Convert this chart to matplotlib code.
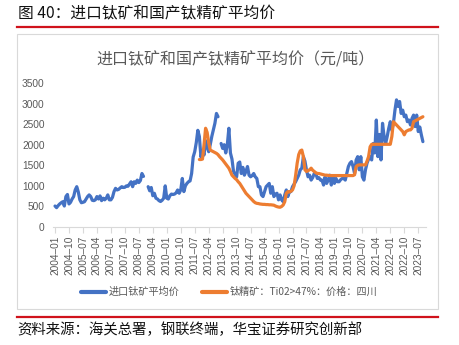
import numpy as np
import matplotlib
matplotlib.use("Agg")
import matplotlib.pyplot as plt
from matplotlib.lines import Line2D
from matplotlib.patches import Rectangle

plt.rcParams['font.family'] = ['Noto Sans CJK SC', 'DejaVu Sans']

nan = np.nan
# monthly months 2004-01 .. 2023-10
start_year, start_month = 2004, 1
n_months = 238
tick_step = 9

blue_2004 = [510, 470, 520, 560, 590, 615, 510, 740, 790, 560, 600, 680]
blue_2005 = [740, 900, 980, 850, 660, 590, 600, 615, 680, 740, 780, 740]
blue_2006 = [650, 640, 660, 740, 680, 755, 640, 700, 660, 700, 780, 660]
blue_2007 = [660, 720, 860, 940, 900, 915, 950, 980, 960, 965, 1000, 990]
blue_2008 = [1045, 1100, 980, 1100, 1060, 1140, 1080, 1130, 1300, 1230, nan, nan]
blue_2009 = [980, 880, 960, 760, 820, 700, 680, 640, 620, 650, 700, 1000]
blue_2010 = [700, 680, 760, 800, 790, 800, 830, 900, 820, 900, 1180, 860]
blue_2011 = [1000, 1060, 1100, 1120, 1300, 1700, 1830, 2050, 2350, 2200, 1700, 1850]
blue_2012 = [1750, 2100, 1950, 1830, 2000, 2200, 2360, 2520, 2760, 2680, nan, 2030]
blue_2013 = [1910, 2000, 1800, 2000, 2400, 1800, 1650, 1350, 1280, 1220, 1550, 1580]
blue_2014 = [1300, 1450, 1260, 1350, 1470, 1260, 1220, 1250, 1300, 1220, 1180, 980]
blue_2015 = [980, 780, 740, 860, 980, 1020, 1060, 820, 980, 740, 800, 820]
blue_2016 = [660, 780, 660, 615, 780, 900, 740, 860, 860, 980, 1040, 1100]
blue_2017 = [1180, 1260, 1390, 1430, 1710, 1600, 1390, 1220, 1260, 1140, 1200, 1300]
blue_2018 = [1300, 1180, 1200, 1140, 1140, 1020, 1220, 1060, 1150, 1260, 1020, 1220]
blue_2019 = [1060, 1180, 1100, 1100, 1150, 1180, 1180, 1140, 1300, 1470, 1550, 1590]
blue_2020 = [1470, 1300, 1630, 1710, 1390, 1710, 1220, 1140, 1390, 1550, 1650, 1710]
blue_2021 = [1630, 2030, 1800, 2600, 1710, 2250, 1630, 2520, 2200, 2030, 2200, 2400]
blue_2022 = [2560, 2350, 2520, 2840, 3090, 2930, 3050, 2760, 2840, 2680, 2720, 2560]
blue_2023 = [2600, 2480, 2640, 2720, 2440, 2720, 2320, 2430, 2240, 2075]

orange_2004_2010 = [nan] * 84
orange_2011 = [nan] * 9 + [1640, 1640, 1650]
orange_2012 = [2000, 2400, 2300, 2050, 1870, 1850, 1830, 1810, 1790, 1760, 1710, 1670]
orange_2013 = [1630, 1580, 1530, 1480, 1430, 1350, 1260, 1220, 1180, 1150, 1100, 1060]
orange_2014 = [1000, 940, 880, 820, 780, 740, 700, 660, 620, 590, 575, 570]
orange_2015 = [560, 555, 550, 550, 545, 545, 540, 540, 535, 530, 510, 495]
orange_2016 = [485, 480, 500, 535, 615, 820, 860, 850, 870, 900, 1000, 1250]
orange_2017 = [1550, 1760, 1850, 1870, 1710, 1390, 1350, 1370, 1390, 1430, 1380, 1350]
orange_2018 = [1320, 1300, 1300, 1290, 1280, 1270, 1260, 1260, 1255, 1250, 1250, 1250]
orange_2019 = [1250, 1250, 1250, 1250, 1250, 1250, 1250, 1250, 1250, 1250, 1250, 1250]
orange_2020 = [1250, 1270, 1470, 1500, 1510, 1510, 1510, 1510, 1510, 1600, 1710, 1950]
orange_2021 = [2010, 2010, 2010, 2010, 2010, 2010, 2010, 2010, 2010, 2010, 2010, 2010]
orange_2022 = [2010, 2200, 2560, 2520, 2480, 2440, 2400, 2360, 2320, 2240, 2320, 2340]
orange_2023 = [2360, 2360, 2400, 2560, 2580, 2600, 2620, 2640, 2660, 2680]

blue = np.array(blue_2004 + blue_2005 + blue_2006 + blue_2007 + blue_2008 + blue_2009 +
                blue_2010 + blue_2011 + blue_2012 + blue_2013 + blue_2014 + blue_2015 +
                blue_2016 + blue_2017 + blue_2018 + blue_2019 + blue_2020 + blue_2021 +
                blue_2022 + blue_2023, dtype=float)
orange = np.array(orange_2004_2010 + orange_2011 + orange_2012 + orange_2013 + orange_2014 +
                  orange_2015 + orange_2016 + orange_2017 + orange_2018 + orange_2019 +
                  orange_2020 + orange_2021 + orange_2022 + orange_2023, dtype=float)

labels = []
for i in range(n_months):
    y = start_year + (start_month - 1 + i) // 12
    mth = (start_month - 1 + i) % 12 + 1
    labels.append(f"{y}\u2013{mth:02d}")

blue_name = "进口钛矿平均价"
orange_name = "钛精矿：Ti02>47%：价格：四川"
y_ticks = [0, 500, 1000, 1500, 2000, 2500, 3000, 3500]

W, H = 459, 345
fig = plt.figure(figsize=(W / 100, H / 100), dpi=100)

def fx(px):
    return px / W

def fy(py):
    return 1 - py / H

# outer decorations
fig.text(fx(18), fy(14), "图 40：进口钛矿和国产钛精矿平均价", fontsize=11.3,
         color="#111111", va="center", ha="left")
fig.add_artist(Line2D([fx(17), fx(438)], [fy(27), fy(27)], color="#D0121B", lw=1.6))
fig.add_artist(Rectangle((fx(17), fy(309)), fx(438) - fx(17), fy(34) - fy(309),
                         fill=False, edgecolor="#D9D9D9", lw=0.8))
fig.add_artist(Line2D([fx(17), fx(438)], [fy(317), fy(317)], color="#D0121B", lw=1.6))
fig.text(fx(17), fy(330), "资料来源：海关总署，钢联终端，华宝证券研究创新部", fontsize=10.4,
         color="#111111", va="center", ha="left")
fig.text(fx(236), fy(60), "进口钛矿和国产钛精矿平均价（元/吨）", fontsize=11.5,
         color="#595959", va="center", ha="center")

ax = fig.add_axes([fx(53), fy(227), fx(426) - fx(53), fy(83) - fy(227)])
x = np.arange(n_months)
lb, = ax.plot(x, blue, color="#4472C4", lw=2.3, solid_capstyle="round", solid_joinstyle="round",
              label=blue_name)
lo, = ax.plot(x, orange, color="#ED7D31", lw=2.3, solid_capstyle="round", solid_joinstyle="round",
              label=orange_name)

ax.set_xlim(-1.3, 239)
ax.set_ylim(0, 3500)
ax.set_yticks(y_ticks)
ax.set_yticklabels([str(v) for v in y_ticks], family=['Liberation Sans'])
tick_pos = list(range(0, n_months, tick_step))
ax.set_xticks(tick_pos)
ax.set_xticklabels([labels[i] for i in tick_pos], rotation=90, fontsize=7.3, color="#595959",
                   family=['Liberation Sans'])
ax.tick_params(axis='y', length=0, labelsize=7.3, labelcolor="#595959", pad=6)
ax.tick_params(axis='x', length=4, color="#D9D9D9", pad=2)
for s in ['top', 'right', 'left']:
    ax.spines[s].set_visible(False)
ax.spines['bottom'].set_color("#D9D9D9")
ax.spines['bottom'].set_linewidth(0.8)

leg = fig.legend(handles=[lb, lo], loc="center", bbox_to_anchor=(fx(229), fy(292)), ncol=2,
                 frameon=False, fontsize=7.3, handlelength=2.5, columnspacing=2.2,
                 handletextpad=0.25, labelcolor="#595959")
for h in leg.legend_handles:
    h.set_linewidth(3)

fig.savefig("out.png", dpi=100)
